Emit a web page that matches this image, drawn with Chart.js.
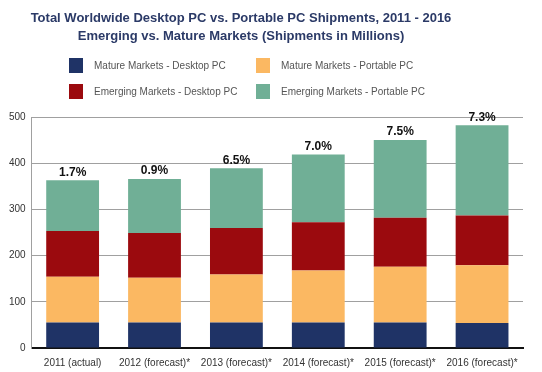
<!DOCTYPE html>
<html>
<head>
<meta charset="utf-8">
<script src="https://cdn.jsdelivr.net/npm/chart.js@4"></script>
<style>
    body { margin: 0; background: #fff; font-family: "Liberation Sans", Arial, sans-serif; }
    #wrap { position: relative; width: 542px; height: 372px; }
    #title { position: absolute; left: 0; top: 9px; width: 482px; text-align: center;
             color: #2b3a67; font-weight: bold; font-size: 13px; line-height: 18px; }
    .lg { position: absolute; font-size: 10px; color: #555; line-height: 15px; }
    .lg span { position: absolute; left: 0; top: 0; width: 14px; height: 15px; }
    .lg b { font-weight: normal; position: absolute; left: 25px; top: 0; white-space: nowrap; }
    canvas { position: absolute; left: 0; top: 0; }
</style>
</head>
<body>
<div id="wrap">
    <canvas id="chart" width="542" height="372"></canvas>
    <div id="title">Total Worldwide Desktop PC vs. Portable PC Shipments, 2011 - 2016<br>Emerging vs. Mature Markets (Shipments in Millions)</div>
    <div id="legend"></div>
</div>
<script>
const years = ['2011 (actual)', '2012 (forecast)*', '2013 (forecast)*', '2014 (forecast)*', '2015 (forecast)*', '2016 (forecast)*'];
const matureDesktop = [55, 55, 55, 55, 55, 54];
const maturePortable = [99, 97, 104, 113, 121, 125];
const emergingDesktop = [99, 97, 101, 104, 106, 108];
const emergingPortable = [110, 117, 129, 147, 168, 195];
const growthLabels = ['1.7%', '0.9%', '6.5%', '7.0%', '7.5%', '7.3%'];
const yTicks = [0, 100, 200, 300, 400, 500];

const series = [
    { label: 'Mature Markets - Desktop PC', data: matureDesktop, color: '#1f3366' },
    { label: 'Mature Markets - Portable PC', data: maturePortable, color: '#fbb862' },
    { label: 'Emerging Markets - Desktop PC', data: emergingDesktop, color: '#9b0a0e' },
    { label: 'Emerging Markets - Portable PC', data: emergingPortable, color: '#70af96' }
];

// legend in two columns, like the original
const legendPos = [[69, 58], [256, 58], [69, 84], [256, 84]];
const legendEl = document.getElementById('legend');
series.forEach((s, i) => {
    const d = document.createElement('div');
    d.className = 'lg';
    d.style.left = legendPos[i][0] + 'px';
    d.style.top = legendPos[i][1] + 'px';
    d.innerHTML = `<span style="background:${s.color}"></span><b>${s.label}</b>`;
    legendEl.appendChild(d);
});

// growth % above each stack
const growthPlugin = {
    id: 'growth',
    afterDatasetsDraw(chart) {
        const ctx = chart.ctx;
        const top = chart.getDatasetMeta(chart.data.datasets.length - 1);
        ctx.save();
        ctx.font = 'bold 12px "Liberation Sans", Arial, sans-serif';
        ctx.fillStyle = '#111';
        ctx.textAlign = 'center';
        ctx.textBaseline = 'bottom';
        top.data.forEach((bar, i) => {
            ctx.fillText(growthLabels[i], bar.x, bar.y - 2);
        });
        ctx.restore();
    }
};

new Chart(document.getElementById('chart'), {
    type: 'bar',
    data: {
        labels: years,
        datasets: series.map(s => ({
            label: s.label,
            data: s.data,
            backgroundColor: s.color,
            borderWidth: 0,
            categoryPercentage: 1,
            barPercentage: 0.645
        }))
    },
    options: {
        responsive: false,
        animation: false,
        layout: { padding: { top: 117, left: 3, right: 19, bottom: 2 } },
        plugins: {
            legend: { display: false },
            tooltip: { enabled: false }
        },
        scales: {
            x: {
                stacked: true,
                grid: { display: false },
                border: { color: '#111', width: 2 },
                ticks: {
                    color: '#333',
                    font: { family: '"Liberation Sans", Arial, sans-serif', size: 10 },
                    maxRotation: 0,
                    autoSkip: false,
                    padding: 1
                }
            },
            y: {
                stacked: true,
                min: 0,
                max: 500,
                afterBuildTicks: axis => { axis.ticks = yTicks.map(v => ({ value: v })); },
                grid: { color: '#a0a0a0', drawTicks: false },
                border: { color: '#a0a0a0' },
                ticks: {
                    color: '#333',
                    padding: 6,
                    font: { family: '"Liberation Sans", Arial, sans-serif', size: 10 }
                }
            }
        }
    },
    plugins: [growthPlugin]
});
</script>
</body>
</html>
